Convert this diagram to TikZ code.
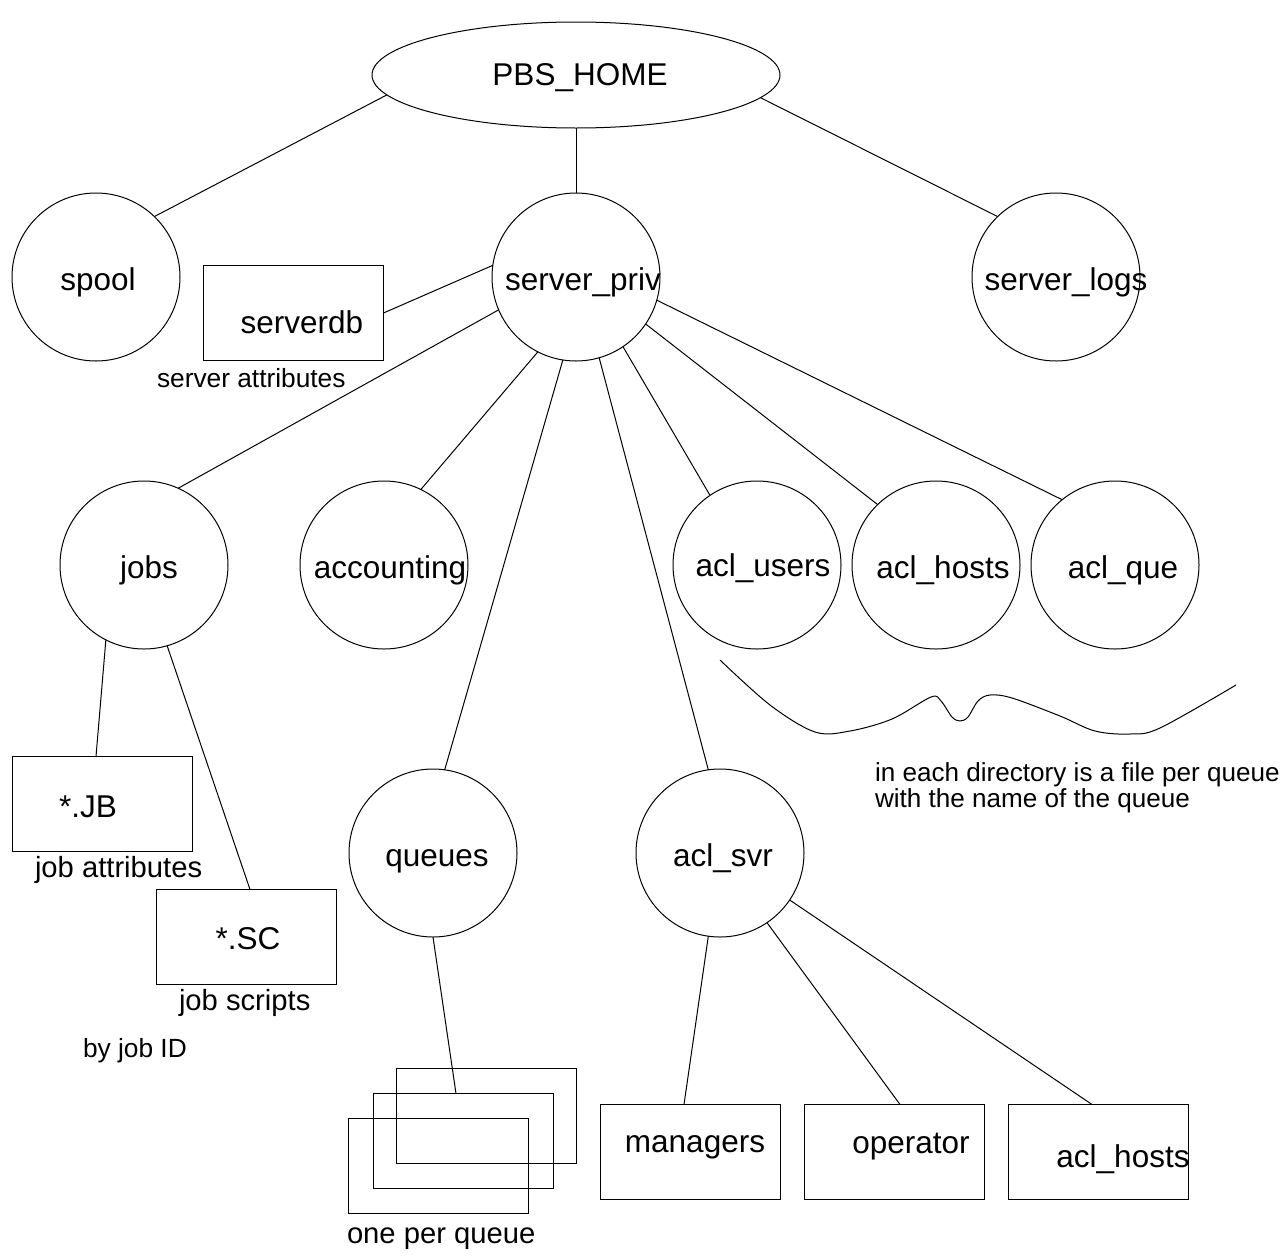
\documentclass[tikz,border=0pt]{standalone}
\usepackage{fontspec}
\setmainfont{Liberation Sans}
\usetikzlibrary{shapes.geometric}
\newcommand{\tx}[3]{\makebox[0pt]{\hspace*{#1pt}\hspace*{#1pt}\smash{\raisebox{#2pt}{#3}}}}
\begin{document}
\begin{tikzpicture}[x=1pt,y=-1pt, line width=1pt,
  every node/.style={font=\fontsize{31.5}{36}\selectfont, inner sep=0pt, outer sep=0pt},
  dirnode/.style={draw, circle, minimum size=168pt},
  filebox/.style={draw, rectangle, minimum width=180pt, minimum height=95pt},
  smalltext/.style={font=\fontsize{26.3}{31}\selectfont, anchor=base west},
  notetext/.style={font=\fontsize{26.1}{31}\selectfont, anchor=base west},
  jobtext/.style={font=\fontsize{29.2}{34}\selectfont, anchor=base west},
  link/.style={draw}]
\fill[white] (0,0) rectangle (1285,1256);
\useasboundingbox (0,0) rectangle (1285,1256);

% root
\node[draw, ellipse, minimum width=408pt, minimum height=106pt] (home) at (576,75) {\tx{4}{-10}{PBS\_HOME}};

% first level
\node[dirnode] (spool) at (96,277) {\tx{2}{-13}{spool}};
\node[dirnode] (sp) at (576,277) {\tx{7}{-13}{server\_priv}};
\node[dirnode] (logs) at (1056,277) {\tx{10}{-13}{server\_logs}};

% serverdb
\node[filebox] (sdb) at (293.5,313) {\tx{8.5}{-20}{serverdb}};
\node[smalltext] (sdblbl) at (157,387) {server attributes};

% second level
\node[dirnode] (jobs) at (144,565) {\tx{5}{-13}{jobs}};
\node[dirnode] (acct) at (384,565) {\tx{6}{-13}{accounting}};
\node[dirnode] (ausers) at (757,565) {\tx{6}{-11}{acl\_users}};
\node[dirnode] (ahosts) at (936,565) {\tx{7}{-13}{acl\_hosts}};
\node[dirnode] (aque) at (1115,565) {\tx{8}{-13}{acl\_que}};
\node[dirnode] (queues) at (433,853) {\tx{4}{-13}{queues}};
\node[dirnode] (asvr) at (720,853) {\tx{3}{-13}{acl\_svr}};

% job files
\node[filebox] (jb) at (102,804) {\tx{-14}{-13}{*.JB}};
\node[jobtext] (jblbl) at (35,877) {job attributes};
\node[filebox] (sc) at (246,937) {\tx{2}{-12}{*.SC}};
\node[jobtext] (sclbl) at (179,1010) {job scripts};
\node[smalltext] (idlbl) at (83,1057) {by job ID};

% queue files
\node[filebox] (q1) at (486,1116) {};
\node[filebox] (q2) at (463,1141) {};
\node[filebox] (q3) at (438,1165.5) {};
\node[jobtext] (qlbl) at (347,1243) {one per queue};

% acl_svr files
\node[filebox] (mgr) at (690,1152) {\tx{5}{0}{managers}};
\node[filebox] (op) at (894.5,1152) {\tx{16.5}{-1}{operator}};
\node[filebox] (ah2) at (1098,1152) {\tx{25}{-15}{acl\_hosts}};

% note
\node[notetext] (note1) at (875,781) {in each directory is a file per queue};
\node[notetext] (note2) at (875,807) {with the name of the queue};

% connectors
\draw[link] (home.186.5) -- (spool.46);
\draw[link] (home.south) -- (sp.north);
\draw[link] (home.353.7) -- (logs.134);
\draw[link] (sp.172) -- (sdb.east);
\draw[link] (sp.203) -- (jobs.66);
\draw[link] (sp.243) -- (acct.64);
\draw[link] (sp.261) -- (queues.82);
\draw[link] (sp.286) -- (asvr.98);
\draw[link] (sp.304) -- (ausers.124);
\draw[link] (sp.326) -- (ahosts.134.5);
\draw[link] (sp.344) -- (aque.129);
\draw[link] (jobs.243) -- ([xshift=-6pt]jb.north);
\draw[link] (jobs.286) -- ([xshift=4pt]sc.north);
\draw[link] (queues.270) -- ([xshift=-7pt]q2.north);
\draw[link] (asvr.262) -- ([xshift=-6pt]mgr.north);
\draw[link] (asvr.304) -- ([xshift=5.5pt]op.north);
\draw[link] (asvr.326) -- ([xshift=-6pt]ah2.north);

% brace-like curve
\draw plot[smooth, tension=0.55] coordinates {(720,660) (770,705) (815,732) (850,731) (892,719) (931,697) (941,701) (952,717) (960,721) (968,717) (978,701) (990,695) (1012,698) (1060,716) (1095,731) (1130,734) (1160,728) (1236,685)};
\end{tikzpicture}
\end{document}
